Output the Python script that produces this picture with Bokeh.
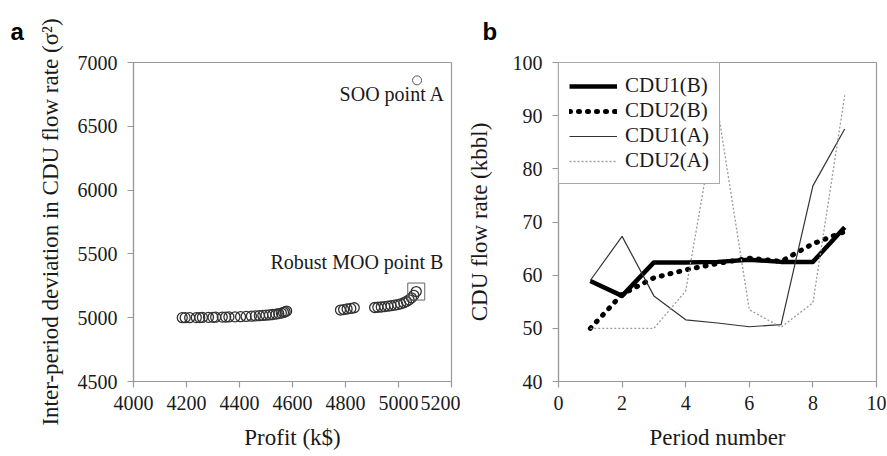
from bokeh.plotting import figure
from bokeh.layouts import row
from bokeh.models import Label, Range1d, FixedTicker, Legend, LegendItem
from bokeh.embed import file_html
from bokeh.resources import INLINE

# ---- Panel a data ----
profit = [4184, 4195, 4212, 4237, 4250, 4260, 4283, 4300, 4310, 4335, 4348, 4360, 4383,
          4404, 4425, 4445, 4460, 4475, 4488, 4500, 4513, 4525, 4538, 4548, 4558, 4566,
          4572, 4578,
          4781, 4793, 4806, 4820, 4833,
          4910, 4922, 4935, 4948, 4960, 4972, 4985, 4997, 5008, 5020, 5030, 5040, 5049,
          5058]
deviation = [5000, 5000, 5000, 5001, 5001, 5002, 5003, 5003, 5004, 5005, 5005, 5006, 5007,
             5008, 5010, 5012, 5014, 5016, 5018, 5020, 5022, 5025, 5028, 5032, 5036, 5041,
             5046, 5052,
             5060, 5064, 5068, 5073, 5078,
             5080, 5082, 5084, 5087, 5090, 5094, 5098, 5103, 5109, 5117, 5127, 5140, 5156,
             5175]
point_b = (5067, 5205)
point_a = (5070, 6860)
x_ticks_a = [4000, 4200, 4400, 4600, 4800, 5000, 5200]
y_ticks_a = [4500, 5000, 5500, 6000, 6500, 7000]

# ---- Panel b data ----
period = [1, 2, 3, 4, 5, 6, 7, 8, 9]
cdu1_b = [58.9, 56.1, 62.4, 62.4, 62.5, 62.9, 62.5, 62.5, 69.0]
cdu2_b = [50.0, 56.4, 59.5, 61.0, 62.2, 63.2, 62.6, 65.9, 68.2]
cdu1_a = [59.0, 67.3, 56.1, 51.6, 51.0, 50.3, 50.7, 76.8, 87.5]
cdu2_a = [50.0, 50.0, 50.0, 57.0, 91.5, 53.5, 50.2, 54.8, 93.8]
x_ticks_b = [0, 2, 4, 6, 8, 10]
y_ticks_b = [40, 50, 60, 70, 80, 90, 100]

SERIF = "Liberation Serif"
AXIS_GRAY = "#999999"
TXT = "#1a1a1a"


def style(p, xticks, yticks, ylabel_standoff, panel_letter, letter_offset):
    p.grid.visible = False
    p.outline_line_color = AXIS_GRAY
    p.outline_line_width = 1.2
    p.background_fill_color = "white"
    p.border_fill_color = "white"
    for ax in (p.xaxis[0], p.yaxis[0]):
        ax.axis_line_color = AXIS_GRAY
        ax.axis_line_width = 1.2
        ax.major_tick_line_color = AXIS_GRAY
        ax.major_tick_line_width = 1.2
        ax.major_tick_out = 6
        ax.major_tick_in = 0
        ax.minor_tick_line_color = None
        ax.major_label_text_font = SERIF
        ax.major_label_text_font_size = "20px"
        ax.major_label_text_color = TXT
        ax.axis_label_text_font = SERIF
        ax.axis_label_text_font_size = "23px"
        ax.axis_label_text_font_style = "normal"
        ax.axis_label_text_color = TXT
    p.xaxis[0].ticker = FixedTicker(ticks=xticks)
    p.yaxis[0].ticker = FixedTicker(ticks=yticks)
    p.xaxis[0].major_label_standoff = 8
    p.xaxis[0].axis_label_standoff = 12
    p.yaxis[0].major_label_standoff = 10
    p.yaxis[0].axis_label_standoff = ylabel_standoff
    p.title.text = panel_letter
    p.title.align = "left"
    p.title.vertical_align = "top"
    p.title.offset = letter_offset
    p.title.standoff = 32
    p.title.text_font = "Liberation Sans"
    p.title.text_font_style = "bold"
    p.title.text_font_size = "24px"
    p.title.text_color = "black"


FRAME_W = 318
FRAME_H = 319
TOP = 62
H = 456

# ---- Figure a ----
p1 = figure(width=133 + FRAME_W + 9, height=H, output_backend="svg", toolbar_location=None,
            x_range=Range1d(4000, 5200), y_range=Range1d(4500, 7000),
            min_border_left=133, min_border_right=9, min_border_top=TOP,
            min_border_bottom=H - TOP - FRAME_H)
p1.xaxis.axis_label = "Profit (k$)"
p1.yaxis.axis_label = "Inter-period deviation in CDU flow rate (σ²)"
style(p1, x_ticks_a, y_ticks_a, 12, "a", -123)

p1.scatter(profit, deviation, marker="circle", size=10, fill_color=None,
           line_color="#333333", line_width=1.3)
p1.scatter([point_b[0]], [point_b[1]], marker="circle", size=10, fill_color=None,
           line_color="#333333", line_width=1.3)
p1.scatter([point_b[0]], [point_b[1]], marker="square", size=17, fill_color=None,
           line_color="#666666", line_width=1)
p1.scatter([point_a[0]], [point_a[1]], marker="circle", size=9, fill_color=None,
           line_color="#555555", line_width=1)

p1.add_layout(Label(x=5176, y=6750, text="SOO point A", text_align="right",
                    text_baseline="alphabetic", text_font=SERIF,
                    text_font_size="20px", text_color=TXT))
p1.add_layout(Label(x=5169, y=5440, text="Robust MOO point B", text_align="right",
                    text_baseline="alphabetic", text_font=SERIF,
                    text_font_size="20px", text_color=TXT))

# ---- Figure b ----
p2 = figure(width=98 + FRAME_W + 10, height=H, output_backend="svg", toolbar_location=None,
            x_range=Range1d(0, 10), y_range=Range1d(40, 100),
            min_border_left=98, min_border_right=10, min_border_top=TOP,
            min_border_bottom=H - TOP - FRAME_H)
p2.xaxis.axis_label = "Period number"
p2.yaxis.axis_label = "CDU flow rate (kbbl)"
style(p2, x_ticks_b, y_ticks_b, 18, "b", -76)

r1 = p2.line(period, cdu1_b, line_color="black", line_width=4.5, line_join="round")
r2 = p2.line(period, cdu2_b, line_color="black", line_width=5, line_dash="1 8",
             line_cap="round")
r3 = p2.line(period, cdu1_a, line_color="#333333", line_width=1.2)
r4 = p2.line(period, cdu2_a, line_color="#9a9a9a", line_width=1.3, line_dash="2 2")

legend = Legend(items=[LegendItem(label="CDU1(B)", renderers=[r1]),
                       LegendItem(label="CDU2(B)", renderers=[r2]),
                       LegendItem(label="CDU1(A)", renderers=[r3]),
                       LegendItem(label="CDU2(A)", renderers=[r4])],
                location="top_left")
legend.margin = 0
legend.padding = 10
legend.spacing = 0
legend.glyph_width = 48
legend.glyph_height = 20
legend.label_height = 20
legend.label_standoff = 8
legend.label_text_font = SERIF
legend.label_text_font_size = "21px"
legend.label_text_color = TXT
legend.border_line_color = "#555555"
legend.border_line_width = 1.2
legend.background_fill_color = "white"
legend.background_fill_alpha = 1
p2.add_layout(legend, "center")

layout = row(p1, p2)
open("out.html", "w").write(file_html(layout, INLINE))
